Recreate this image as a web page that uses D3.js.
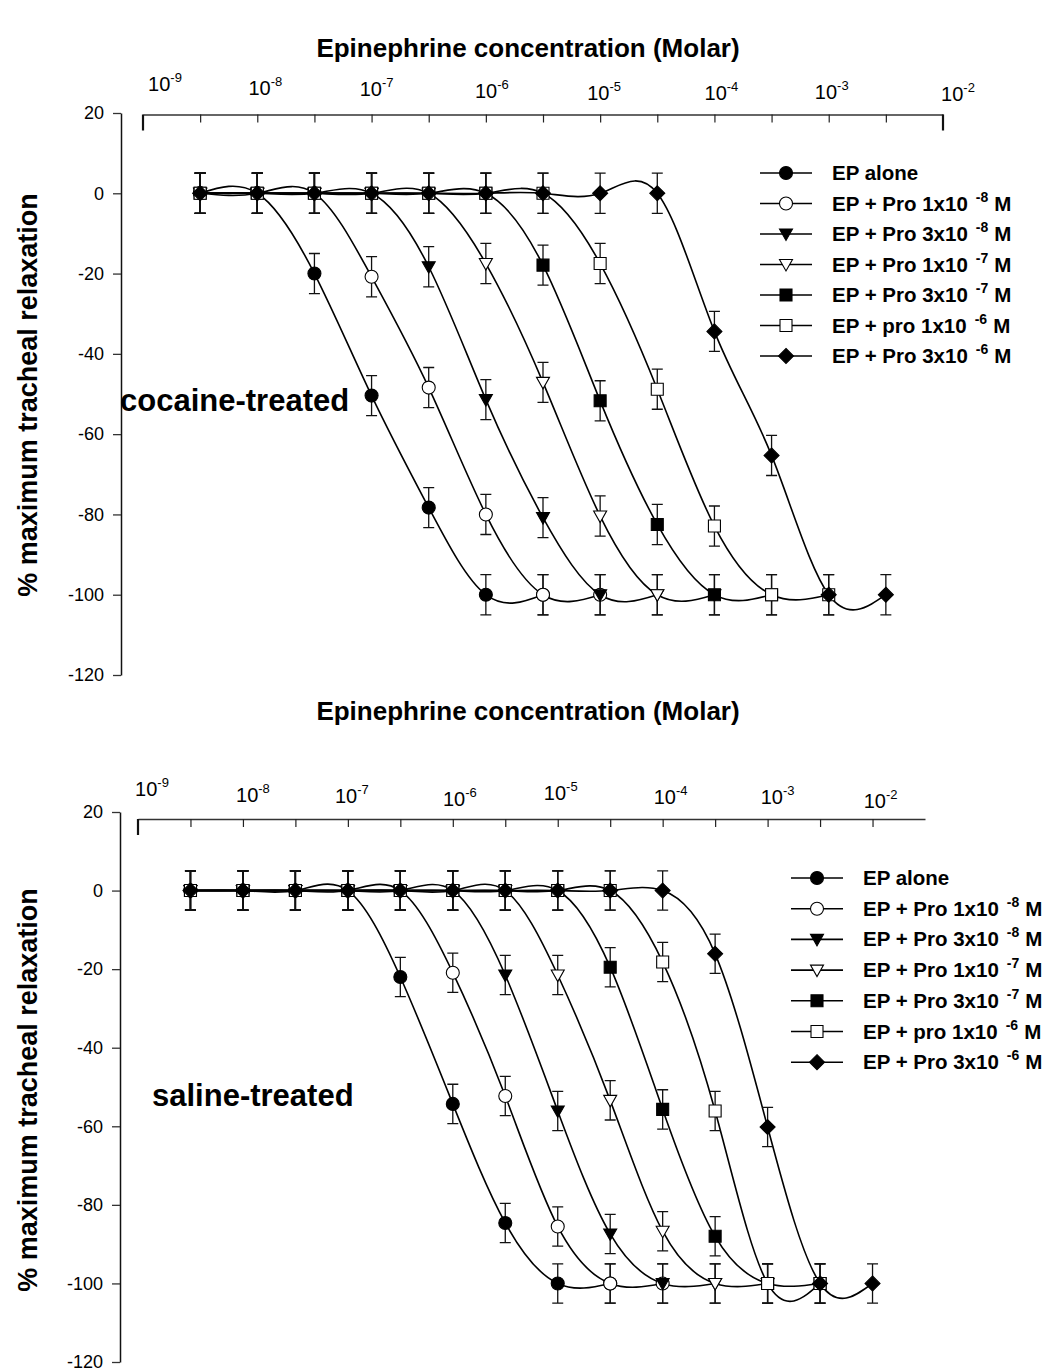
<!DOCTYPE html>
<html>
<head>
<meta charset="utf-8">
<script src="https://cdn.jsdelivr.net/npm/d3@7"></script>
<style>
  body { margin: 0; background: #fff; }
  text { font-family: "Liberation Sans", Arial, sans-serif; fill: #000; }
</style>
</head>
<body>
<svg id="chart" width="1052" height="1371"></svg>
<script>
// log10 of epinephrine concentration (M) for each data point
const concCocaine = [-8.5, -8, -7.5, -7, -6.5, -6, -5.5, -5, -4.5, -4, -3.5, -3, -2.5];
const concSaline = [-8.5, -8, -7.5, -7, -6.5, -6, -5.5, -5, -4.5, -4, -3.5, -3, -2.5, -2];

// % maximum tracheal relaxation, cocaine-treated
const cocEpAlone = [0, 0, -20, -50.4, -78.3, -100, -100];
const cocPro1e8 = [0, 0, 0, -20.8, -48.4, -80, -100, -100];
const cocPro3e8 = [0, 0, 0, 0, -18.3, -51.4, -80.8, -100, -100];
const cocPro1e7 = [0, 0, 0, 0, 0, -17.5, -47.1, -80.4, -100, -100];
const cocPro3e7 = [0, 0, 0, 0, 0, 0, -17.9, -51.7, -82.5, -100, -100];
const cocPro1e6 = [0, 0, 0, 0, 0, 0, 0, -17.5, -48.8, -82.9, -100, -100];
const cocPro3e6 = [0, 0, 0, 0, 0, 0, 0, 0, 0, -34.4, -65.3, -100, -100];

// saline-treated
const salEpAlone = [0, 0, 0, 0, -22, -54.3, -84.6, -100, -100];
const salPro1e8 = [0, 0, 0, 0, 0, -20.9, -52.3, -85.5, -100, -100];
const salPro3e8 = [0, 0, 0, 0, 0, 0, -21.5, -56.1, -87.4, -100, -100];
const salPro1e7 = [0, 0, 0, 0, 0, 0, 0, -21.5, -53.4, -86.7, -100, -100];
const salPro3e7 = [0, 0, 0, 0, 0, 0, 0, 0, -19.5, -55.7, -88, -100, -100];
const salPro1e6 = [0, 0, 0, 0, 0, 0, 0, 0, 0, -18.2, -56.1, -100, -100];
const salPro3e6 = [0, 0, 0, 0, 0, 0, 0, 0, 0, 0, -16.1, -60.2, -100, -100];

const semCocaine = 5;
const semSaline = 5;

const legendBase = [`EP alone`, `EP + Pro 1x10`, `EP + Pro 3x10`, `EP + Pro 1x10`, `EP + Pro 3x10`, `EP + pro 1x10`, `EP + Pro 3x10`];
const legendExp = [null, `-8`, `-8`, `-7`, `-7`, `-6`, `-6`];
const decadeExp = [-9, -8, -7, -6, -5, -4, -3, -2];
const yTicks = [20, 0, -20, -40, -60, -80, -100, -120];

const shapes = [`circle`, `circle`, `tri`, `tri`, `square`, `square`, `diamond`];
const filled = [true, false, true, false, true, false, true];

const svg = d3.select(`#chart`);

const markerPath = (shape) => {
  const p = d3.path();
  if (shape === `circle`) {
    p.arc(0, 0, 6.5, 0, 2 * Math.PI);
  } else if (shape === `tri`) {
    p.moveTo(-6.5, -5); p.lineTo(6.5, -5); p.lineTo(0, 6.5); p.closePath();
  } else if (shape === `square`) {
    p.rect(-6, -6, 12, 12);
  } else {
    p.moveTo(0, -7.5); p.lineTo(7.5, 0); p.lineTo(0, 7.5); p.lineTo(-7.5, 0); p.closePath();
  }
  return p.toString();
};

const drawPanel = (cfg) => {
  const { x, y, axisY, axisX, conc, series, sem } = cfg;
  const g = svg.append(`g`);

  // top x axis, ticks every half log unit pointing down
  const xAxis = g.append(`g`)
    .attr(`transform`, `translate(0,${axisY})`)
    .call(d3.axisBottom(x).tickValues(cfg.minorTicks).tickSize(8).tickSizeOuter(0).tickFormat(``));
  xAxis.select(`.domain`).attr(`stroke`, `#333`).attr(`stroke-width`, 1.6);
  xAxis.selectAll(`.tick line`).attr(`stroke`, `#222`).attr(`stroke-width`, 1.2);
  g.selectAll(`.endtick`)
    .data(cfg.endTicks)
    .join(`line`)
      .attr(`x1`, d => x(d)).attr(`x2`, d => x(d))
      .attr(`y1`, axisY).attr(`y2`, axisY + 16)
      .attr(`stroke`, `#111`).attr(`stroke-width`, 2.2);

  g.selectAll(`.decade`)
    .data(decadeExp)
    .join(`text`)
      .attr(`x`, (d, i) => x(d) + cfg.labelNudge[i][0])
      .attr(`y`, (d, i) => axisY - cfg.labelNudge[i][1])
      .attr(`text-anchor`, `middle`)
      .attr(`font-size`, 20)
      .each(function (d) {
        const t = d3.select(this);
        t.append(`tspan`).text(`10`);
        t.append(`tspan`).attr(`dy`, -9).attr(`font-size`, 13).text(d);
      });

  // y axis
  const yAxis = g.append(`g`)
    .attr(`transform`, `translate(${axisX},0)`)
    .call(d3.axisLeft(y).tickValues(yTicks).tickSize(8).tickSizeOuter(0).tickPadding(9).tickFormat(d => `${d}`));
  yAxis.select(`.domain`).attr(`stroke`, `#111`).attr(`stroke-width`, 1.5);
  yAxis.selectAll(`.tick line`).attr(`stroke`, `#333`).attr(`stroke-width`, 1.3);
  yAxis.selectAll(`.tick text`).attr(`font-size`, 18).attr(`font-family`, `"Liberation Sans", Arial, sans-serif`).attr(`fill`, `#000`);

  g.append(`text`)
    .attr(`transform`, `translate(37,${cfg.yLabelCenter}) rotate(-90)`)
    .attr(`text-anchor`, `middle`)
    .attr(`font-size`, 27)
    .attr(`font-weight`, `bold`)
    .text(`% maximum tracheal relaxation`);

  g.append(`text`)
    .attr(`x`, 528).attr(`y`, cfg.titleY)
    .attr(`text-anchor`, `middle`)
    .attr(`font-size`, 26)
    .attr(`font-weight`, `bold`)
    .text(`Epinephrine concentration (Molar)`);

  g.append(`text`)
    .attr(`x`, cfg.groupLabel[1]).attr(`y`, cfg.groupLabel[2])
    .attr(`font-size`, 31)
    .attr(`font-weight`, `bold`)
    .text(cfg.groupLabel[0]);

  const pts = series.map(vals => vals.map((v, i) => ({ c: conc[i], v })));

  const line = d3.line()
    .x(d => x(d.c))
    .y(d => y(d.v))
    .curve(d3.curveNatural);

  g.selectAll(`.curve`)
    .data(pts)
    .join(`path`)
      .attr(`d`, line)
      .attr(`fill`, `none`)
      .attr(`stroke`, `#000`)
      .attr(`stroke-width`, 1.6);

  pts.forEach((p, s) => {
    const sg = g.append(`g`);
    sg.selectAll(`.err`)
      .data(p)
      .join(`path`)
        .attr(`d`, d => {
          const cx = x(d.c), y1 = y(d.v + sem), y2 = y(d.v - sem);
          return `M${cx},${y1}V${y2}M${cx - 5.5},${y1}H${cx + 5.5}M${cx - 5.5},${y2}H${cx + 5.5}`;
        })
        .attr(`fill`, `none`)
        .attr(`stroke`, `#111`)
        .attr(`stroke-width`, 1.3);
    sg.selectAll(`.mk`)
      .data(p)
      .join(`path`)
        .attr(`transform`, d => `translate(${x(d.c)},${y(d.v)})`)
        .attr(`d`, markerPath(shapes[s]))
        .attr(`fill`, filled[s] ? `#000` : `#fff`)
        .attr(`stroke`, `#000`)
        .attr(`stroke-width`, 1.1);
  });

  // legend
  const lg = g.append(`g`);
  const [lx, ly, dy] = cfg.legend;
  legendBase.forEach((name, i) => {
    const row = lg.append(`g`).attr(`transform`, `translate(${lx},${ly + i * dy})`);
    row.append(`line`).attr(`x1`, -26).attr(`x2`, 26)
      .attr(`stroke`, `#000`).attr(`stroke-width`, 1.6);
    row.append(`path`).attr(`d`, markerPath(shapes[i]))
      .attr(`fill`, filled[i] ? `#000` : `#fff`)
      .attr(`stroke`, `#000`).attr(`stroke-width`, 1.1);
    const t = row.append(`text`).attr(`x`, 46).attr(`y`, 7)
      .attr(`font-size`, 20.5).attr(`font-weight`, `bold`);
    t.append(`tspan`).text(name);
    if (legendExp[i]) {
      t.append(`tspan`).attr(`dx`, 8).attr(`dy`, -9).attr(`font-size`, 14).text(legendExp[i]);
      t.append(`tspan`).attr(`dx`, 6).attr(`dy`, 9).text(`M`);
    }
  });
};

drawPanel({
  x: d3.scaleLinear().domain([-9, -2]).range([143, 943]),
  y: d3.scaleLinear().domain([-120, 20]).range([675, 113]),
  axisY: 114.5,
  axisX: 121,
  minorTicks: d3.range(-8.5, -2.25, 0.5),
  endTicks: [-9, -2],
  labelNudge: [[22, 24], [8, 20], [5, 19], [6, 17], [4, 15], [7, 15], [3, 16], [15, 14]],
  conc: concCocaine,
  series: [cocEpAlone, cocPro1e8, cocPro3e8, cocPro1e7, cocPro3e7, cocPro1e6, cocPro3e6],
  sem: semCocaine,
  yLabelCenter: 395,
  titleY: 57,
  groupLabel: [`cocaine-treated`, 120, 411],
  legend: [786, 173, 30.5]
});

drawPanel({
  x: d3.scaleLinear().domain([-9, -1.5]).range([138, 925]),
  y: d3.scaleLinear().domain([-120, 20]).range([1362, 812]),
  axisY: 819,
  axisX: 120,
  minorTicks: d3.range(-8.5, -1.75, 0.5),
  endTicks: [-9],
  labelNudge: [[14, 23], [10, 17], [4, 16], [7, 13], [3, 19], [8, 15], [10, 15], [8, 11]],
  conc: concSaline,
  series: [salEpAlone, salPro1e8, salPro3e8, salPro1e7, salPro3e7, salPro1e6, salPro3e6],
  sem: semSaline,
  yLabelCenter: 1090,
  titleY: 720,
  groupLabel: [`saline-treated`, 152, 1106],
  legend: [817, 878, 30.7]
});
</script>
</body>
</html>
